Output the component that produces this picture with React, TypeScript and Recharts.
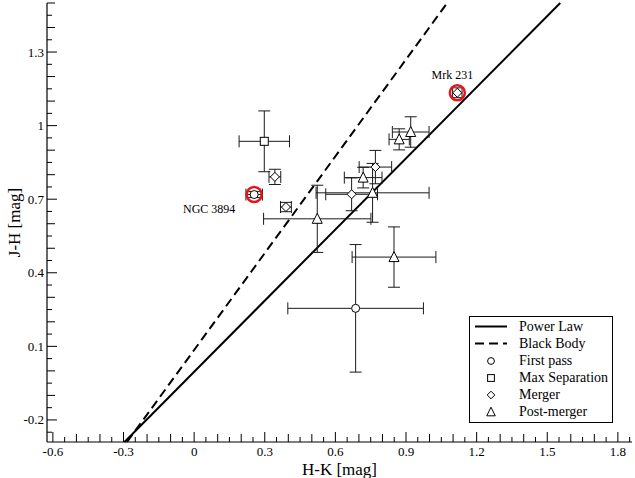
import React from 'react';
import {
  ScatterChart,
  Scatter,
  XAxis,
  YAxis,
  ErrorBar,
  ReferenceLine,
  Legend,
} from 'recharts';

const FONT = "'Times New Roman', 'Liberation Serif', 'DejaVu Serif', serif";

// axis ranges and tick labels
const xDomain = [-0.625, 1.86];
const yDomain = [-0.29, 1.5];
const xMajor = [-0.6, -0.3, 0, 0.3, 0.6, 0.9, 1.2, 1.5, 1.8];
const yMajor = [-0.2, 0.1, 0.4, 0.7, 1, 1.3];

// model lines (end points in H-K / J-H)
const powerLaw = [
  { x: -0.296, y: -0.29 },
  { x: 1.555, y: 1.5 },
];
const blackBody = [
  { x: -0.285, y: -0.29 },
  { x: 1.075, y: 1.5 },
];

// galaxies: x = H-K, y = J-H, ex / ey = errors
const firstPass = [
  { name: 'NGC 3894', x: 0.255, y: 0.719, ex: 0.035, ey: 0.012 },
  { name: '', x: 0.686, y: 0.255, ex: 0.288, ey: 0.26 },
];
const maxSeparation = [{ name: '', x: 0.298, y: 0.936, ex: 0.107, ey: 0.124 }];
const merger = [
  { name: '', x: 0.343, y: 0.791, ex: 0.025, ey: 0.031 },
  { name: '', x: 0.39, y: 0.668, ex: 0.023, ey: 0.019 },
  { name: '', x: 0.669, y: 0.72, ex: 0.11, ey: 0.067 },
  { name: '', x: 0.77, y: 0.831, ex: 0.069, ey: 0.068 },
  { name: 'Mrk 231', x: 1.118, y: 1.134, ex: 0.02, ey: 0.02 },
];
const postMerger = [
  { name: '', x: 0.523, y: 0.62, ex: 0.228, ey: 0.137 },
  { name: '', x: 0.758, y: 0.726, ex: 0.24, ey: 0.12 },
  { name: '', x: 0.718, y: 0.788, ex: 0.08, ey: 0.042 },
  { name: '', x: 0.871, y: 0.944, ex: 0.043, ey: 0.043 },
  { name: '', x: 0.92, y: 0.974, ex: 0.078, ey: 0.062 },
  { name: '', x: 0.849, y: 0.464, ex: 0.178, ey: 0.123 },
];
const highlighted = [
  { name: 'NGC 3894', x: 0.255, y: 0.719 },
  { name: 'Mrk 231', x: 1.118, y: 1.134 },
];

const legendItems = [
  { label: 'Power Law', kind: 'solid' },
  { label: 'Black Body', kind: 'dashed' },
  { label: 'First pass', kind: 'circle' },
  { label: 'Max Separation', kind: 'square' },
  { label: 'Merger', kind: 'diamond' },
  { label: 'Post-merger', kind: 'triangle' },
];

// label offsets for the two named objects
const labelOffset: Record<string, { dx: number; dy: number }> = {
  'NGC 3894': { dx: -45, dy: 18 },
  'Mrk 231': { dx: -5, dy: -14 },
};

const range = (from: number, to: number, step: number) => {
  const out: number[] = [];
  for (let v = from; v <= to + 1e-9; v += step) out.push(Math.round(v * 100) / 100);
  return out;
};
const xTicks = range(-0.6, 1.85, 0.05);
const yTicks = range(-0.25, 1.5, 0.05);

const tickLen = (v: number, majors: number[]) => {
  if (majors.includes(v)) return 10;
  return Math.abs(Math.round(v * 10) - v * 10) < 1e-6 ? 8 : 5;
};

const txt = { fontFamily: FONT };

const BottomTick = (props: any) => {
  const { x, y, payload } = props;
  const v = payload.value;
  const major = xMajor.includes(v);
  return (
    <g>
      <line x1={x} y1={y} x2={x} y2={y - tickLen(v, xMajor)} stroke="#000" />
      {major && (
        <text x={x} y={y + 14} textAnchor="middle" fontSize={13} fontFamily={FONT} style={txt} fill="#000">
          {String(v)}
        </text>
      )}
    </g>
  );
};

const TopTick = (props: any) => {
  const { x, y, payload } = props;
  return <line x1={x} y1={y} x2={x} y2={y + tickLen(payload.value, xMajor)} stroke="#000" />;
};

const LeftTick = (props: any) => {
  const { x, y, payload } = props;
  const v = payload.value;
  const major = yMajor.includes(v);
  return (
    <g>
      <line x1={x} y1={y} x2={x + tickLen(v, yMajor)} y2={y} stroke="#000" />
      {major && (
        <text x={x - 3} y={y + 4.5} textAnchor="end" fontSize={13} fontFamily={FONT} style={txt} fill="#000">
          {String(v)}
        </text>
      )}
    </g>
  );
};

const RightTick = (props: any) => {
  const { x, y, payload } = props;
  return <line x1={x} y1={y} x2={x - tickLen(payload.value, yMajor)} y2={y} stroke="#000" />;
};

const marker = (kind: string, cx: number, cy: number, s = 1) => {
  const common = { fill: '#fff', stroke: '#000', strokeWidth: 1 };
  if (kind === 'circle') return <circle cx={cx} cy={cy} r={4 * s} {...common} />;
  if (kind === 'square')
    return <rect x={cx - 4 * s} y={cy - 4 * s} width={8 * s} height={8 * s} {...common} />;
  if (kind === 'diamond') {
    const d = 4.5 * s;
    return (
      <polygon
        points={`${cx},${cy - d} ${cx + d},${cy} ${cx},${cy + d} ${cx - d},${cy}`}
        {...common}
      />
    );
  }
  const w = 5 * s;
  const h = 4.5 * s;
  return (
    <polygon points={`${cx},${cy - h - 1} ${cx + w},${cy + h} ${cx - w},${cy + h}`} {...common} />
  );
};

const shapeOf = (kind: string) => (props: any) => marker(kind, props.cx, props.cy);

const Ring = (props: any) => {
  const { cx, cy, payload } = props;
  const off = labelOffset[payload.name] || { dx: 0, dy: 0 };
  return (
    <g>
      <circle cx={cx} cy={cy} r={7.5} fill="none" stroke="#e8141b" strokeWidth={2.5} />
      <text x={cx + off.dx} y={cy + off.dy} textAnchor="middle" fontSize={12} fontFamily={FONT} style={txt} fill="#000">
        {payload.name}
      </text>
    </g>
  );
};

const renderLegend = () => (
  <div
    style={{
      border: '1px solid #000',
      background: '#fff',
      width: 144,
      height: 107,
      boxSizing: 'border-box',
      paddingTop: 1,
      fontFamily: FONT,
      fontSize: 14,
    }}
  >
    {legendItems.map((it) => (
      <div key={it.label} style={{ display: 'flex', alignItems: 'center', height: 17 }}>
        <svg width={46} height={17}>
          {it.kind === 'solid' && <line x1={5} y1={8.5} x2={37} y2={8.5} stroke="#000" strokeWidth={2} />}
          {it.kind === 'dashed' && (
            <line x1={5} y1={8.5} x2={37} y2={8.5} stroke="#000" strokeWidth={2} strokeDasharray="9 5" />
          )}
          {it.kind !== 'solid' && it.kind !== 'dashed' && marker(it.kind, 21, 9, 0.85)}
        </svg>
        <span style={{ marginLeft: 3, lineHeight: '17px', whiteSpace: 'nowrap' }}>{it.label}</span>
      </div>
    ))}
  </div>
);

const bar = { stroke: '#1a1a1a', strokeWidth: 1 };

export default function App() {
  return (
    <div style={{ position: 'absolute', left: 0, top: 0, width: 635, height: 478, background: '#fff' }}>
      <ScatterChart width={635} height={478} margin={{ top: 3, right: 3, bottom: 0, left: 0 }}>
        <XAxis
          xAxisId="b"
          type="number"
          dataKey="x"
          domain={xDomain}
          allowDataOverflow
          ticks={xTicks}
          interval={0}
          tick={<BottomTick />}
          tickLine={false}
          tickSize={0}
          tickMargin={0}
          height={36}
          axisLine={{ stroke: '#000', strokeWidth: 1.2 }}
          label={{
            value: 'H-K [mag]',
            position: 'insideBottom',
            offset: 3,
            fontSize: 17,
            fill: '#000',
            fontFamily: FONT,
            style: txt,
          }}
        />
        <XAxis
          xAxisId="t"
          orientation="top"
          type="number"
          dataKey="x"
          domain={xDomain}
          allowDataOverflow
          ticks={xTicks}
          interval={0}
          tick={<TopTick />}
          tickLine={false}
          tickSize={0}
          tickMargin={0}
          height={0}
          axisLine={{ stroke: '#000', strokeWidth: 1.2 }}
        />
        <YAxis
          yAxisId="l"
          type="number"
          dataKey="y"
          domain={yDomain}
          allowDataOverflow
          ticks={yTicks}
          interval={0}
          tick={<LeftTick />}
          tickLine={false}
          tickSize={0}
          tickMargin={0}
          width={47}
          axisLine={{ stroke: '#000', strokeWidth: 1.2 }}
          label={{
            value: 'J-H [mag]',
            angle: -90,
            position: 'insideLeft',
            offset: 14,
            fontSize: 17,
            fill: '#000',
            fontFamily: FONT,
            style: { textAnchor: 'middle', fontFamily: FONT },
          }}
        />
        <YAxis
          yAxisId="r"
          orientation="right"
          type="number"
          dataKey="y"
          domain={yDomain}
          allowDataOverflow
          ticks={yTicks}
          interval={0}
          tick={<RightTick />}
          tickLine={false}
          tickSize={0}
          tickMargin={0}
          width={0}
          axisLine={{ stroke: '#000', strokeWidth: 1.2 }}
        />

        <ReferenceLine
          xAxisId="b"
          yAxisId="l"
          segment={powerLaw}
          stroke="#000"
          strokeWidth={2}
          ifOverflow="visible"
        />
        <ReferenceLine
          xAxisId="b"
          yAxisId="l"
          segment={blackBody}
          stroke="#000"
          strokeWidth={2}
          strokeDasharray="9 5"
          ifOverflow="visible"
        />

        <Scatter xAxisId="b" yAxisId="l" name="First pass" data={firstPass} shape={shapeOf('circle')} isAnimationActive={false}>
          <ErrorBar dataKey="ex" direction="x" width={6} {...bar} />
          <ErrorBar dataKey="ey" direction="y" width={6} {...bar} />
        </Scatter>
        <Scatter xAxisId="b" yAxisId="l" name="Max Separation" data={maxSeparation} shape={shapeOf('square')} isAnimationActive={false}>
          <ErrorBar dataKey="ex" direction="x" width={6} {...bar} />
          <ErrorBar dataKey="ey" direction="y" width={6} {...bar} />
        </Scatter>
        <Scatter xAxisId="b" yAxisId="l" name="Merger" data={merger} shape={shapeOf('diamond')} isAnimationActive={false}>
          <ErrorBar dataKey="ex" direction="x" width={6} {...bar} />
          <ErrorBar dataKey="ey" direction="y" width={6} {...bar} />
        </Scatter>
        <Scatter xAxisId="b" yAxisId="l" name="Post-merger" data={postMerger} shape={shapeOf('triangle')} isAnimationActive={false}>
          <ErrorBar dataKey="ex" direction="x" width={6} {...bar} />
          <ErrorBar dataKey="ey" direction="y" width={6} {...bar} />
        </Scatter>
        <Scatter xAxisId="b" yAxisId="l" name="highlight" data={highlighted} shape={<Ring />} isAnimationActive={false} legendType="none" />

        <Legend
          layout="vertical"
          align="center"
          verticalAlign="middle"
          content={renderLegend}
          wrapperStyle={{ left: 469, top: 316, width: 144, height: 107 }}
        />
      </ScatterChart>
    </div>
  );
}
